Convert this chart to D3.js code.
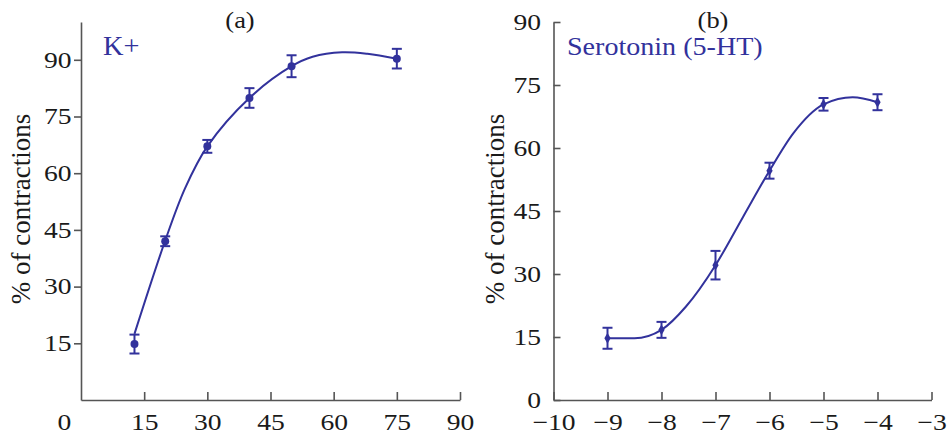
<!DOCTYPE html>
<html>
<head>
<meta charset="utf-8">
<script src="https://cdn.jsdelivr.net/npm/d3@7"></script>
<style>
    html, body { margin: 0; padding: 0; background: #fff; }
    svg { display: block; }
    text { font-family: "Liberation Serif", "Times New Roman", serif; }
</style>
</head>
<body>
<svg id="chart" width="947" height="435"></svg>
<script>
// panel (a): K+ concentration vs % of contractions
var kConc = [12.7, 20, 30, 40, 50, 75];
var kResp = [14.8, 42.0, 67.1, 79.9, 88.3, 90.3];
var kErr = [2.5, 1.3, 1.7, 2.6, 2.9, 2.6];
// fitted curve
var kFitX = [12.7, 20, 24.7, 30, 40, 50, 55, 62, 68, 75];
var kFitY = [17.5, 42.2, 56.0, 67.1, 79.9, 88.3, 90.8, 92.0, 91.6, 90.3];
var kTicksX = [0, 15, 30, 45, 60, 75, 90];
var kTicksY = [15, 30, 45, 60, 75, 90];

// panel (b): log[5-HT] vs % of contractions
var htConc = [-9, -8, -7, -6, -5, -4];
var htResp = [14.7, 16.7, 32.1, 54.6, 70.4, 70.9];
var htErr = [2.5, 1.9, 3.4, 1.9, 1.5, 1.9];
var htFitX = [-9, -8.5, -8, -7.55, -7, -6.49, -6, -5.56, -5, -4.46, -4];
var htFitY = [14.7, 14.7, 16.7, 22.2, 32.1, 43.6, 54.6, 63.5, 70.4, 72.1, 70.9];
var htTicksX = [-10, -9, -8, -7, -6, -5, -4, -3];
var htTicksY = [0, 15, 30, 45, 60, 75, 90];

(function () {
    'use strict';

    var BLUE = '#32329c';
    var AXIS = '#555';
    var INK = '#1a1a1a';
    var STRETCH = 1.2;

    var svg = d3.select('#chart');

    /**
     * one panel: axes, fitted curve, error bars, markers
     */
    function drawPanel(cfg) {
        var x = d3.scaleLinear().domain(cfg.xDomain).range(cfg.xRange);
        var y = d3.scaleLinear().domain(cfg.yDomain).range([400, 22]);
        var g = svg.append('g');

        // x axis, ticks pointing up into the plot
        var xAxis = g.append('g')
            .attr('transform', 'translate(0,400)')
            .call(d3.axisBottom(x)
                .tickValues(cfg.ticksX)
                .tickSize(-8)
                .tickSizeOuter(0)
                .tickFormat(function (d) { return String(d).replace('-', '\u2212'); }));
        xAxis.selectAll('text')
            .attr('y', 0)
            .attr('dy', 30)
            .attr('font-size', 23)
            .attr('fill', INK)
            .attr('transform', 'scale(' + STRETCH + ',1)')
            .attr('x', function (d) { return (d === 0 && cfg.shiftZero) ? -17 / STRETCH : 0; });
        if (cfg.shiftZero) {
            xAxis.selectAll('.tick').filter(function (d) { return d === 0; }).select('line').remove();
        }

        // y axis
        var yAxis = g.append('g')
            .attr('transform', 'translate(' + cfg.xRange[0] + ',0)')
            .call(d3.axisLeft(y)
                .tickValues(cfg.ticksY)
                .tickSize(cfg.yTickSize)
                .tickSizeOuter(0));
        yAxis.selectAll('text')
            .attr('x', cfg.yLabelOffset / STRETCH)
            .attr('font-size', 23)
            .attr('fill', INK)
            .attr('transform', 'scale(' + STRETCH + ',1)');

        g.selectAll('.domain, .tick line')
            .attr('stroke', AXIS)
            .attr('stroke-width', 1.6);
        g.selectAll('.tick text').attr('font-family', '"Liberation Serif", "Times New Roman", serif');

        // fitted curve
        var fit = cfg.fitX.map(function (v, i) { return [v, cfg.fitY[i]]; });
        g.append('path')
            .datum(fit)
            .attr('fill', 'none')
            .attr('stroke', BLUE)
            .attr('stroke-width', 2)
            .attr('d', d3.line()
                .x(function (d) { return x(d[0]); })
                .y(function (d) { return y(d[1]); })
                .curve(cfg.curve));

        var pts = cfg.px.map(function (v, i) {
            return { x: v, y: cfg.py[i], e: cfg.pe[i] };
        });

        // error bars
        var bars = g.append('g')
            .attr('stroke', BLUE)
            .attr('stroke-width', 2)
            .selectAll('g')
            .data(pts)
            .enter()
            .append('g');
        bars.append('line')
            .attr('x1', function (d) { return x(d.x); })
            .attr('x2', function (d) { return x(d.x); })
            .attr('y1', function (d) { return y(d.y - d.e); })
            .attr('y2', function (d) { return y(d.y + d.e); });
        [-1, 1].forEach(function (s) {
            bars.append('line')
                .attr('x1', function (d) { return x(d.x) - 5; })
                .attr('x2', function (d) { return x(d.x) + 5; })
                .attr('y1', function (d) { return y(d.y + s * d.e); })
                .attr('y2', function (d) { return y(d.y + s * d.e); });
        });

        // markers
        g.append('g')
            .selectAll('path')
            .data(pts)
            .enter()
            .append('path')
            .attr('fill', BLUE)
            .attr('transform', function (d) { return 'translate(' + x(d.x) + ',' + y(d.y) + ')'; })
            .attr('d', d3.symbol().type(cfg.marker).size(cfg.markerSize));

        // panel letter
        g.append('text')
            .attr('transform', 'translate(' + cfg.titleX + ',28) scale(1.15,1)')
            .attr('text-anchor', 'middle')
            .attr('font-size', 23)
            .attr('fill', INK)
            .text(cfg.title);

        // agonist label
        g.append('text')
            .attr('transform', 'translate(' + cfg.labelX + ',55) scale(' + cfg.labelStretch + ',1)')
            .attr('font-size', cfg.labelSize)
            .attr('fill', BLUE)
            .text(cfg.label);

        // y axis title
        g.append('text')
            .attr('transform', 'translate(' + cfg.yTitleX + ',209) rotate(-90)')
            .attr('text-anchor', 'middle')
            .attr('font-size', 27)
            .attr('fill', INK)
            .text('% of contractions');
    }

    drawPanel({
        xDomain: [0, 90], xRange: [81, 460], yDomain: [0, 100],
        ticksX: kTicksX, ticksY: kTicksY, shiftZero: true,
        yTickSize: 7, yLabelOffset: -9.5,
        fitX: kFitX, fitY: kFitY, curve: d3.curveCatmullRom.alpha(0.5),
        px: kConc, py: kResp, pe: kErr,
        marker: d3.symbolCircle, markerSize: 50,
        title: '(a)', titleX: 240, label: 'K+', labelX: 103,
        labelSize: 27, labelStretch: 1.05, yTitleX: 30
    });

    drawPanel({
        xDomain: [-10, -3], xRange: [553.5, 931.5], yDomain: [0, 90],
        ticksX: htTicksX, ticksY: htTicksY, shiftZero: false,
        yTickSize: -7, yLabelOffset: -12.5,
        fitX: htFitX, fitY: htFitY, curve: d3.curveMonotoneX,
        px: htConc, py: htResp, pe: htErr,
        marker: d3.symbolDiamond, markerSize: 34,
        title: '(b)', titleX: 713, label: 'Serotonin (5-HT)', labelX: 567,
        labelSize: 26, labelStretch: 1.08, yTitleX: 504
    });
})();
</script>
</body>
</html>
